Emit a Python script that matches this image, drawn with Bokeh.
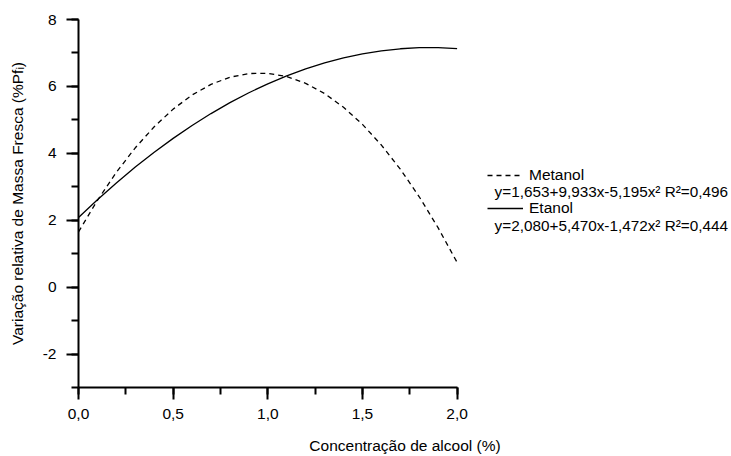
from bokeh.plotting import figure
from bokeh.models import (Range1d, SingleIntervalTicker, CustomJSTickFormatter,
                          Label, Legend, LegendItem)
from bokeh.embed import file_html
from bokeh.resources import INLINE

# ---- data ----
conc = [0.0, 0.1, 0.2, 0.3, 0.4, 0.5, 0.6, 0.7, 0.8, 0.9, 1.0,
        1.1, 1.2, 1.3, 1.4, 1.5, 1.6, 1.7, 1.8, 1.9, 2.0]
metanol = [1.653, 2.594, 3.432, 4.165, 4.795, 5.321, 5.743, 6.061, 6.275, 6.385, 6.391,
           6.293, 6.092, 5.786, 5.377, 4.864, 4.247, 3.526, 2.701, 1.772, 0.739]
etanol = [2.080, 2.612, 3.115, 3.589, 4.032, 4.447, 4.832, 5.188, 5.514, 5.811, 6.078,
          6.316, 6.524, 6.703, 6.853, 6.973, 7.064, 7.125, 7.157, 7.159, 7.132]
series_names = ["Metanol", "Etanol"]
equations = ["y=1,653+9,933x-5,195x\u00b2 R\u00b2=0,496",
             "y=2,080+5,470x-1,472x\u00b2 R\u00b2=0,444"]
x_label = "Concentra\u00e7\u00e3o de alcool (%)"
y_label = "Varia\u00e7\u00e3o relativa de Massa Fresca (%Pf\u1d62)"

FONT = "Liberation Sans"
FS = "15.5px"

p = figure(width=731, height=456, output_backend="svg", toolbar_location=None,
           x_range=Range1d(0, 3.4495), y_range=Range1d(-3, 8),
           min_border_left=78, min_border_right=0, min_border_top=19,
           min_border_bottom=69)
p.outline_line_color = None
p.grid.visible = False
p.background_fill_color = "white"
p.border_fill_color = "white"

r1 = p.line(conc, metanol, line_color="black", line_width=1.3, line_dash="5 4")
r2 = p.line(conc, etanol, line_color="black", line_width=1.3)

xa = p.xaxis[0]
xa.bounds = (0, 2)
xa.ticker = SingleIntervalTicker(interval=0.5, num_minor_ticks=2)
xa.formatter = CustomJSTickFormatter(code="return tick.toFixed(1).replace('.', ',');")
ya = p.yaxis[0]
ya.bounds = (-3, 8)
ya.ticker = SingleIntervalTicker(interval=2, num_minor_ticks=2)
ya.formatter = CustomJSTickFormatter(code="return tick.toFixed(0);")

for ax in (xa, ya):
    ax.axis_line_width = 2
    ax.axis_line_color = "black"
    ax.major_tick_line_width = 2
    ax.minor_tick_line_width = 2
    ax.major_tick_line_color = "black"
    ax.minor_tick_line_color = "black"
    ax.major_tick_in = 0
    ax.minor_tick_in = 0
    ax.major_tick_out = 12
    ax.minor_tick_out = 7
    ax.major_label_text_font = FONT
    ax.major_label_text_font_size = FS
    ax.major_label_text_color = "black"
    ax.axis_label_text_font = FONT
    ax.axis_label_text_font_size = FS
    ax.axis_label_text_font_style = "normal"
    ax.axis_label_text_color = "black"

xa.axis_label = x_label
xa.major_label_standoff = 9
xa.axis_label_standoff = 15
ya.axis_label = y_label
ya.major_label_standoff = 10
ya.axis_label_standoff = 14

legend = Legend(items=[LegendItem(label=series_names[0], renderers=[r1]),
                       LegendItem(label=series_names[1], renderers=[r2])],
                location=(409, 170), padding=0, margin=0, spacing=15,
                glyph_width=36, glyph_height=16, label_height=16,
                label_standoff=6, label_text_font=FONT, label_text_font_size=FS,
                label_text_color="black",
                border_line_color=None, background_fill_alpha=0)
p.add_layout(legend)

for eq, yy in zip(equations, [2.844, 1.857]):
    p.add_layout(Label(x=2.198, y=yy, text=eq, text_font=FONT, text_font_size="15.3px",
                       text_baseline="middle", text_color="black"))

open("out.html", "w").write(file_html(p, INLINE))
